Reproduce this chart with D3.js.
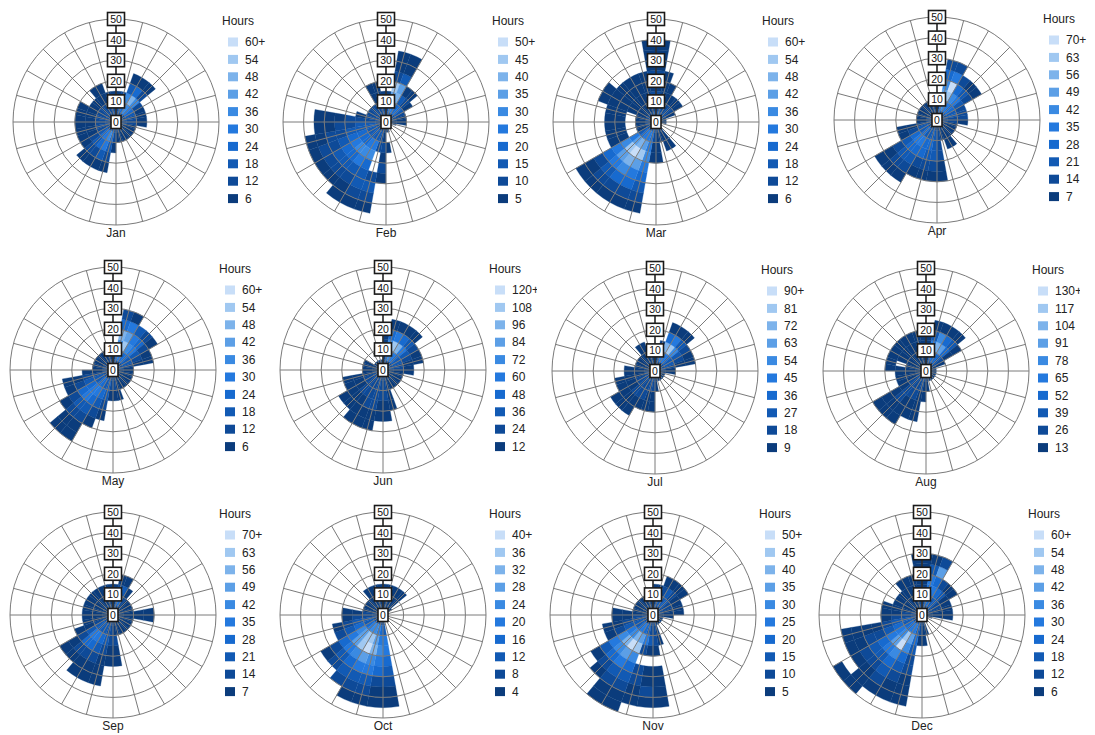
<!DOCTYPE html>
<html><head><meta charset="utf-8">
<script src="https://cdn.jsdelivr.net/npm/d3@7"></script>
<style>
body{margin:0;background:#fff;}
svg{display:block;font-family:"Liberation Sans",Arial,sans-serif;}
</style>
</head><body>
<svg id="chart" width="1095" height="735"></svg>
<script>
// ---------------- DATA ----------------
const months = ["Jan","Feb","Mar","Apr","May","Jun","Jul","Aug","Sep","Oct","Nov","Dec"];
// legend class width (hours) per month; top class is "N+"
const legendSteps = [6,5,6,7,6,12,9,13,7,4,5,6];
const speedTicks = [0,10,20,30,40,50];
const speedBinWidth = 5;      // wind-speed bin width
const directionWidth = 10;    // degrees per direction sector
// Hours per [direction sector 0..35 (0=N, clockwise)][speed bin 0-5,5-10,...]
const jan = [
[12,12,6],[12,18,12],[12,24,36,18,6],[18,36,48,24,6],[18,30,36,12,6],[12,24,12],[12,18,6],[12,12,6],[12,12,6],[12,12,6],
[12,6],[6,6],[6,6],[6,6],[6,6],[6,6],[6,6],[12,6],[12,12,6],[12,24,18,12,6],
[18,36,30,18,6],[18,30,24,12,6],[12,24,18,12,6],[12,18,12,6],[12,12,6,6],[12,12,6,6],[12,12,6,6],[12,12,6,6],[12,12,6,6],[12,12,6,6],
[12,12,6],[12,12,6],[12,12,6,6],[12,12,6,6],[12,12,6],[12,12,6]];
const feb = [
[10,10,5],[15,25,35,45,10,5,5],[15,25,40,35,15,5,5],[15,20,15,5],[15,20,10,5],[10,15,5],[10,10],[10,5],[5,5],[5,5],
[5],[],[],[],[],[],[5],[5,0,5],[5,5,10,5,10,5],[5,10,10,0,0,10,15,10,5],
[10,15,25,30,20,15,15,10,5],[10,15,25,30,25,15,10,5,5],[10,15,20,30,20,15,10,5],[10,15,20,25,20,15,10,5],[10,15,20,20,15,10,10,5],[10,15,15,15,10,10,5,5],[10,15,15,10,10,5,5],[10,10,10,10,5,5,5],[10,10,5],[10,10],
[10,10],[10,10],[10,10],[10,10,5,5],[10,10,5,5],[10,10,5]];
const mar = [
[18,12,12,6,12,6,6,6],[18,12,6,6,6],[18,12,6,6],[12,12,6],[12,12,6],[12,12,6],[12,6],[6],[6],[6],
[],[],[],[],[6,6,6],[6,6,6],[6,6],[12,6,6,6],[12,12,6,6],[18,24,30,36,30,24,18,12,6],
[18,30,42,54,42,30,24,12,6],[18,30,48,60,48,36,24,12,6],[18,24,42,54,42,30,18,12,6],[12,18,30,36,30,24,12,6,6],[12,6,0,6,6],[12,6,0,6,6],[12,6,0,6,6],[12,6,0,6,6],[12,6,0,6,6],[12,6,6,6,6,6],
[12,6,6,6,6,6],[12,6,6,6,6],[12,6,6,6,6],[12,6,6,6,6],[12,6,6,6,6],[18,12,12,6,12,6,6,6]];
const apr = [
[14,7],[21,35,49,42,28,14],[21,42,63,70,35,14],[21,35,42,28,14],[21,28,35,21,7],[21,28,21,14,7],[14,21,14],[14,21,14],[14,14,14],[14,14,7],
[14,7],[7,7],[7,7],[7,7],[7,7,7],[7,7,7],[7,7],[7,14,14,14,7,7],[14,21,21,21,14,7],[14,21,28,21,14,7],
[14,21,28,28,14,7],[14,21,35,28,21,14,7],[14,28,35,28,21,14,7],[14,21,28,21,14,7,7],[14,21,14,7],[14,14,7,7],[14,7],[14,7],[14,7],[7,7],
[7,7],[7,7],[7,7],[7,7],[7,7],[14,7]];
const may = [
[6,6],[12,24,36,48,24,12],[12,30,54,42,30,6],[12,24,36,30,18],[12,24,30,24,12],[12,18,18,12,6],[12,18,12,6],[12,12,6,6],[12,6],[6,6],
[6,6],[6,6],[6,6],[6,6],[6,6],[6,6],[6,6,6],[12,12,6],[12,12,6],[12,18,18,12,6],
[12,18,24,18,12,6],[12,24,30,24,18,12,6,6],[12,24,30,30,18,12,6,6],[12,18,24,24,12,6],[12,18,18,12,6],[12,12,12,6,6],[12,6,6],[12,6],[12,6],[12,6],
[6,6],[6,6],[6,6],[6,6],[6,6],[6,6]];
const jun = [
[12,12,12,12],[24,48,72,48,12],[24,72,108,60,12],[24,60,96,48,12],[24,48,60,36,12],[24,36,36,24],[24,36,24,12],[24,24,12,12],[24,24,12],[12,12,12],
[12,12],[12,12],[12,12],[12,12],[12,12],[12,12],[12,12,12,12],[24,24,24,12,12],[24,24,24,12,12],[24,24,24,24,12,12],
[24,24,24,24,12,12],[24,24,24,12,12,12],[24,24,24,12,12],[24,24,12,12,12],[24,24,12,12],[24,12,12,12],[12,12],[12,12],[12,12],[12,12],
[12],[12],[12],[12],[12],[12]];
const jul = [
[9,9],[9,18,9],[18,45,72,36,9],[18,45,81,45,9],[18,36,54,27,9],[18,27,27,18],[18,27,18,9],[18,18,9,9],[18,9],[9,9],
[9],[9],[9],[9],[9],[9],[9],[9,9],[18,18,9,9],[18,18,9,9],
[18,18,18,9],[18,18,18,9,9],[18,18,18,9,9],[18,18,9,9,9],[18,18,9,9],[18,9,9,9],[18,9,9],[9,9,9],[9,9],[9,9],
[9,9],[9,9],[9,9,9],[9,9,9],[9,9],[9,9]];
const aug = [
[13,13,13,13],[26,39,65,39,13],[26,52,104,78,13],[26,52,91,52,13],[26,39,52,39,13],[26,26,13,13],[13,13],[13],[13],[13],
[13],[13],[13],[13],[13],[13],[13],[13,13],[26,13,13],[26,26,13,13,13],
[26,26,26,13,13],[26,26,26,13,13,13],[26,26,26,26,13,13],[26,26,13,13,13,13],[26,13,13],[13,13,13],[13,13,13],[13,13,13,13],[13,13,0,13],[13,13,13,13],
[13,13,13,13],[13,13,13,13],[13,13,13,13],[13,13,13,13],[13,13,13,13],[13,13,13,13]];
const sep = [
[7,7,7],[14,21,14,7],[14,28,21,7],[14,14,7],[7,7],[7,7],[7,7],[7,7],[7,7,7,7],[7,7,7,7],
[7,7],[7,7],[7,7],[7,7],[7,7],[7,7],[7,7],[7,7,14,7,7],[14,14,14,7,7],[14,14,21,14,7,7,7],
[14,21,28,21,14,7,7],[14,21,35,28,14,7,7],[14,21,35,28,14,7],[14,21,21,14,7,7],[14,14,7,7],[7,7,7],[7,7,7],[7,7,7],[7,7,7],[7,7,7],
[7,7,7],[7,7,7],[7,7,7],[7,7,7],[7,7,7],[7,7,7]];
const oct = [
[4,4,4],[4,4,4],[4,4,4],[4,4,4],[4,4,4],[4],[],[],[],[],
[],[],[],[],[],[],[],[8,12,20,20,16,12,8,4,4],[8,16,20,24,20,16,8,4,4],[8,20,28,32,24,20,12,8,4],
[12,24,36,40,28,20,12,8,4],[12,24,36,36,24,16,12,8],[8,20,28,28,20,12,8],[8,16,24,20,16,8,4],[8,12,16,12,8],[8,12,12,8,4],[8,8,8,4],[8,8,4,4],[4,4],[4,4],
[4,4],[4,4],[4,4,4],[4,4,4],[4,4,4],[4,4,4]];
const nov = [
[10,5,5],[10,10,5],[10,15,10,5],[10,15,15,5],[10,15,10,5],[10,10,5,5],[10,10,5],[10,5,5],[5,5,5],[5,5],
[5],[5],[5],[5],[5],[5],[5,5,5],[10,10,10,5,0,5,5,5,5],[10,10,15,5,0,5,5,10,5],[10,15,25,10,0,10,10,5,5],
[10,20,35,45,30,20,15,10,5,5],[10,25,40,50,35,25,15,10,5,5],[10,20,30,40,30,20,10,5],[10,15,25,30,25,15,5],[10,15,15,10,5],[10,10,10,5,5],[10,10,5,5],[5,5,5,5],[5,5],[5,5],
[5,5],[5,5],[5,5],[5,5],[5,5],[5,5]];
const dec = [
[12,12,6,6,6,6],[12,18,24,30,18,6],[12,24,30,24,42,12],[12,18,24,12],[12,18,18,6],[12,12,6,6],[12,12,6],[6,6,6],[6,6,6],[6,6,6],
[6],[],[],[],[],[],[6,6],[6,6,6],[12,12,6],[12,18,24,18,12,12,6,6,6],
[18,30,42,36,24,18,12,6,6],[18,30,54,60,36,24,18,12,6,0],[12,24,36,42,30,18,12,6,6,6],[12,24,30,30,24,18,12,6,0,6],[12,18,24,18,12,12,6,6],[12,18,18,12,6,6,6,6],[12,12,12,6],[12,12,6,6],[12,6,6,6],[6,6,6],
[6,6,6],[6,6,6],[6,6,6,6],[6,6,6,6],[6,6,6,6],[12,12,6,6,6,6]];
const monthData = [jan,feb,mar,apr,may,jun,jul,aug,sep,oct,nov,dec];

// ---------------- LAYOUT / STYLE ----------------
const centers = [[116,122],[386,122],[656,122],[937,120],
                 [113,370],[383,370],[655,371],[926,371],
                 [113,615],[383,615],[653,615],[922,615]];
const R = 103;
const palette = ["#0b3c7c","#0e4a98","#125ab4","#176acf","#2479de","#3a8ae2","#5c9fe6","#7db3eb","#a0c8f1","#c8def8"];
const spokeCount = 24;

const svg = d3.select("#chart");
const rScale = d3.scaleLinear().domain([0,50]).range([0,R]);
const rad = d => d*Math.PI/180;
const arc = d3.arc();

months.forEach((m,mi)=>{
  const [cx,cy] = centers[mi];
  const step = legendSteps[mi];
  const clipId = "clip"+mi;
  svg.append("clipPath").attr("id",clipId).append("rect")
     .attr("x",cx-113).attr("y",cy-122).attr("width",267).attr("height",245);
  const g = svg.append("g").attr("clip-path",`url(#${clipId})`)
              .append("g").attr("transform",`translate(${cx},${cy})`);
  const colorOf = h => palette[Math.min(10,Math.ceil(h/step))-1];

  // cells
  const cells = [];
  monthData[mi].forEach((row,d)=>row.forEach((h,b)=>{ if(h>0) cells.push({d,b,h}); }));
  g.selectAll("path.cell").data(cells).join("path").attr("class","cell")
    .attr("d",c=>arc({innerRadius:rScale(c.b*speedBinWidth),outerRadius:rScale((c.b+1)*speedBinWidth),
                      startAngle:rad(c.d*directionWidth),endAngle:rad((c.d+1)*directionWidth)}))
    .attr("fill",c=>colorOf(c.h)).attr("stroke",c=>colorOf(c.h)).attr("stroke-width",0.3);

  // grid
  g.selectAll("circle.ring").data(speedTicks.slice(1)).join("circle").attr("class","ring")
    .attr("r",v=>rScale(v)).attr("fill","none").attr("stroke","#7a7a7a").attr("stroke-width",1);
  const spokes = d3.range(spokeCount).map(i=>i*360/spokeCount);
  g.selectAll("line.spoke").data(spokes).join("line").attr("class","spoke")
    .attr("x1",0).attr("y1",0)
    .attr("x2",a=>R*Math.sin(rad(a))).attr("y2",a=>-R*Math.cos(rad(a)))
    .attr("stroke","#7a7a7a").attr("stroke-width",1);
  g.append("line").attr("x1",0).attr("y1",0).attr("x2",0).attr("y2",-rScale(50))
    .attr("stroke","#222").attr("stroke-width",1.4);

  // radial labels
  const lab = g.selectAll("g.tick").data(speedTicks).join("g").attr("class","tick")
     .attr("transform",v=>`translate(0,${-rScale(v)})`);
  lab.each(function(v){
    const s = d3.select(this);
    const w = String(v).length>1 ? 17 : 10;
    s.append("rect").attr("x",-w/2).attr("y",-6.5).attr("width",w).attr("height",13)
      .attr("fill","#fff").attr("stroke","#1a1a1a").attr("stroke-width",1.6);
    s.append("text").attr("text-anchor","middle").attr("y",4).attr("font-size",10.5)
      .attr("fill","#111").text(v);
  });

  // month label
  g.append("text").attr("x",0).attr("y",115).attr("text-anchor","middle")
    .attr("font-size",12).attr("fill","#222").text(m);

  // legend
  const lg = g.append("g").attr("transform","translate(106,0)");
  lg.append("text").attr("x",0).attr("y",-97).attr("font-size",12).attr("fill","#222").text("Hours");
  const items = d3.range(10,0,-1);
  lg.selectAll("rect.sw").data(items).join("rect").attr("class","sw")
    .attr("x",6).attr("y",(k,i)=>-80+i*17.4-4.5).attr("width",10).attr("height",9)
    .attr("fill",k=>palette[k-1]);
  lg.selectAll("text.lb").data(items).join("text").attr("class","lb")
    .attr("x",23).attr("y",(k,i)=>-80+i*17.4+4.2).attr("font-size",12).attr("fill","#222")
    .text(k=>k===10 ? (k*step)+"+" : k*step);
});
</script>
</body></html>
